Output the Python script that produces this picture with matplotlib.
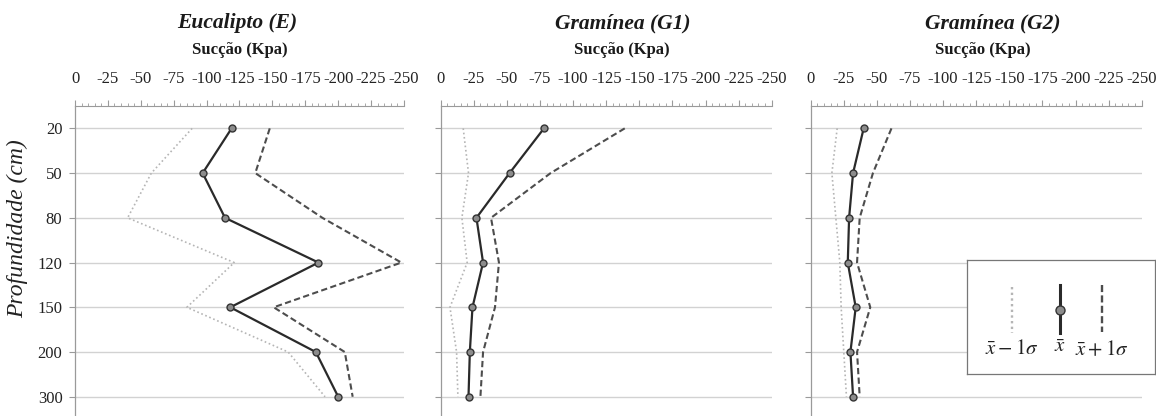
import matplotlib
matplotlib.use("Agg")
import matplotlib.pyplot as plt
from matplotlib.ticker import MultipleLocator

plt.rcParams["font.family"] = ["Liberation Serif", "DejaVu Serif"]
plt.rcParams["mathtext.fontset"] = "stix"

# Depth classes (cm) and soil suction (kPa) per profile
depths = ["20", "50", "80", "120", "150", "200", "300"]

euc_mean = [-119, -97, -114, -185, -118, -183, -200]
euc_upper = [-148, -137, -188, -248, -151, -205, -211]
euc_lower = [-89, -58, -40, -121, -85, -162, -190]

g1_mean = [-78, -52, -27, -32, -24, -22, -21]
g1_upper = [-139, -83, -38, -44, -41, -32, -30]
g1_lower = [-17, -21, -16, -20, -7, -12, -13]

g2_mean = [-40, -32, -29, -28, -34, -30, -32]
g2_upper = [-61, -47, -37, -35, -45, -35, -37]
g2_lower = [-20, -16, -19, -22, -23, -25, -27]

titles = ["Eucalipto (E)", "Gramínea (G1)", "Gramínea (G2)"]
panels = [
    (euc_mean, euc_upper, euc_lower),
    (g1_mean, g1_upper, g1_lower),
    (g2_mean, g2_upper, g2_lower),
]
x_ticks = list(range(0, -251, -25))

W, H = 1156, 416
fig = plt.figure(figsize=(W / 100, H / 100), dpi=100)

lefts = [75, 440.7, 810.7]
widths = [329, 331, 331]
top_px = 106
title_x = [237, 623, 993]
sub_x = [240, 622, 983]

LOWER_C = "#b5b5b5"
UPPER_C = "#4d4d4d"
MEAN_C = "#2a2a2a"

ypos = list(range(len(depths)))

for i, (mean, upper, lower) in enumerate(panels):
    ax = fig.add_axes([lefts[i] / W, 0, widths[i] / W, 1 - top_px / H])
    ax.set_xlim(0, -250)
    ax.set_ylim(6.43, -0.5)

    for y in ypos:
        ax.axhline(y, color="#d2d2d2", lw=1.0, zorder=0)

    ax.plot(lower, ypos, color=LOWER_C, lw=1.2, ls=(0, (1, 1.6)), zorder=2)
    ax.plot(upper, ypos, color=UPPER_C, lw=1.5, ls=(0, (3, 1.6)), zorder=3)
    ax.plot(mean, ypos, color=MEAN_C, lw=1.6, marker="o", ms=5,
            mfc="#8c8c8c", mec="#333333", mew=1.0, zorder=4)

    ax.xaxis.set_ticks_position("top")
    ax.xaxis.set_label_position("top")
    ax.set_xticks(x_ticks)
    ax.set_xticklabels([str(v) for v in x_ticks])
    ax.xaxis.set_minor_locator(MultipleLocator(5))
    ax.tick_params(axis="x", which="major", direction="out", length=4,
                   width=0.8, color="#9a9a9a", pad=10, labelsize=12,
                   labelcolor="#222222")
    ax.tick_params(axis="x", which="minor", direction="out", length=2.3,
                   width=0.6, color="#9a9a9a")

    ax.set_yticks(ypos)
    if i == 0:
        ax.set_yticklabels(depths)
    else:
        ax.set_yticklabels([])
    ax.tick_params(axis="y", direction="out", length=4, width=0.8,
                   color="#9a9a9a", pad=5, labelsize=12, labelcolor="#222222")

    for side in ("right", "bottom"):
        ax.spines[side].set_visible(False)
    ax.spines["left"].set_color("#9a9a9a")
    ax.spines["left"].set_linewidth(0.9)
    ax.spines["top"].set_color("#9a9a9a")
    ax.spines["top"].set_linewidth(0.8)

    if i == 0:
        ax.set_ylabel("Profundidade (cm)", fontsize=17, style="italic",
                      color="#222222")
        ax.yaxis.set_label_coords(-0.143, 0.606)

    fig.text(title_x[i] / W, 1 - 23 / H, titles[i], fontsize=15.5,
             fontweight="bold", style="italic", ha="center", va="center",
             color="#1a1a1a")
    fig.text(sub_x[i] / W, 1 - 50 / H, "Sucção (Kpa)", fontsize=12,
             fontweight="bold", ha="center", va="center", color="#1a1a1a")

# Legend box with vertical line swatches
lx0, ly0, lx1, ly1 = 967, 260, 1155, 374
lax = fig.add_axes([lx0 / W, 1 - ly1 / H, (lx1 - lx0) / W, (ly1 - ly0) / H])
lax.set_xlim(0, lx1 - lx0)
lax.set_ylim(ly1 - ly0, 0)
lax.set_xticks([])
lax.set_yticks([])
for s in lax.spines.values():
    s.set_color("#777777")
    s.set_linewidth(0.9)
lax.set_facecolor("white")

lax.plot([44.7, 44.7], [27, 73], color=LOWER_C, lw=1.7, ls=(0, (1, 1.4)))
lax.plot([93, 93], [25, 73], color=MEAN_C, lw=2.2)
lax.plot([93], [50], marker="o", ms=6.5, mfc="#8c8c8c", mec="#333333", mew=1.0)
lax.plot([134.7, 134.7], [25, 72], color=UPPER_C, lw=1.7, ls=(0, (3, 1.4)))

lax.text(44.7, 90, r"$\bar{x} - 1\sigma$", fontsize=15, ha="center",
         va="center", color="#222222")
lax.text(93, 88, r"$\bar{x}$", fontsize=15, ha="center", va="center",
         color="#222222")
lax.text(134.7, 90, r"$\bar{x} + 1\sigma$", fontsize=15, ha="center",
         va="center", color="#222222")

fig.savefig("out.png", dpi=100, facecolor="white")
